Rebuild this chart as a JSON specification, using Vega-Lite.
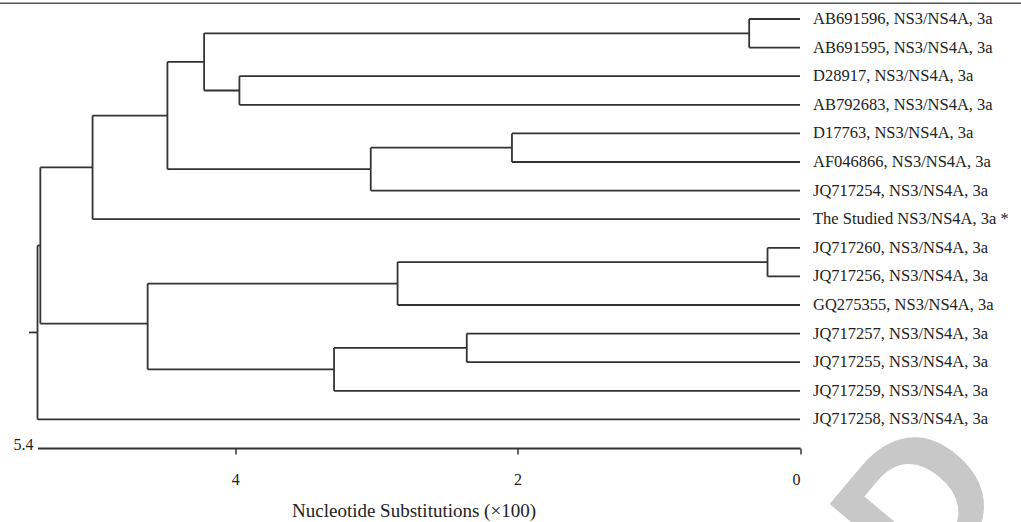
{
  "$schema": "https://vega.github.io/schema/vega-lite/v6.json",
  "width": 762.5,
  "height": 429,
  "autosize": "none",
  "padding": {"left": 37.5, "top": 19, "right": 221, "bottom": 74},
  "background": "white",
  "config": {"view": {"stroke": null}},
  "datasets": {
    "segs": [
      {"x": 0.36, "x2": 0, "y": 0, "y2": 0},
      {"x": 0.36, "x2": 0, "y": 1, "y2": 1},
      {"x": 3.97, "x2": 0, "y": 2, "y2": 2},
      {"x": 3.97, "x2": 0, "y": 3, "y2": 3},
      {"x": 2.04, "x2": 0, "y": 4, "y2": 4},
      {"x": 2.04, "x2": 0, "y": 5, "y2": 5},
      {"x": 3.04, "x2": 0, "y": 6, "y2": 6},
      {"x": 5.01, "x2": 0, "y": 7, "y2": 7},
      {"x": 0.23, "x2": 0, "y": 8, "y2": 8},
      {"x": 0.23, "x2": 0, "y": 9, "y2": 9},
      {"x": 2.85, "x2": 0, "y": 10, "y2": 10},
      {"x": 2.36, "x2": 0, "y": 11, "y2": 11},
      {"x": 2.36, "x2": 0, "y": 12, "y2": 12},
      {"x": 3.30, "x2": 0, "y": 13, "y2": 13},
      {"x": 5.40, "x2": 0, "y": 14, "y2": 14},
      {"x": 4.22, "x2": 0.36, "y": 0.5, "y2": 0.5},
      {"x": 4.22, "x2": 3.97, "y": 2.5, "y2": 2.5},
      {"x": 4.48, "x2": 4.22, "y": 1.5, "y2": 1.5},
      {"x": 3.04, "x2": 2.04, "y": 4.5, "y2": 4.5},
      {"x": 4.48, "x2": 3.04, "y": 5.25, "y2": 5.25},
      {"x": 5.01, "x2": 4.48, "y": 3.375, "y2": 3.375},
      {"x": 5.38, "x2": 5.01, "y": 5.19, "y2": 5.19},
      {"x": 2.85, "x2": 0.23, "y": 8.5, "y2": 8.5},
      {"x": 4.62, "x2": 2.85, "y": 9.25, "y2": 9.25},
      {"x": 3.30, "x2": 2.36, "y": 11.5, "y2": 11.5},
      {"x": 4.62, "x2": 3.30, "y": 12.25, "y2": 12.25},
      {"x": 5.38, "x2": 4.62, "y": 10.65, "y2": 10.65},
      {"x": 5.40, "x2": 5.38, "y": 7.92, "y2": 7.92},
      {"x": 5.46, "x2": 5.40, "y": 10.96, "y2": 10.96},
      {"x": 0.36, "x2": 0.36, "y": 0, "y2": 1},
      {"x": 3.97, "x2": 3.97, "y": 2, "y2": 3},
      {"x": 4.22, "x2": 4.22, "y": 0.5, "y2": 2.5},
      {"x": 2.04, "x2": 2.04, "y": 4, "y2": 5},
      {"x": 3.04, "x2": 3.04, "y": 4.5, "y2": 6},
      {"x": 4.48, "x2": 4.48, "y": 1.5, "y2": 5.25},
      {"x": 5.01, "x2": 5.01, "y": 3.375, "y2": 7},
      {"x": 0.23, "x2": 0.23, "y": 8, "y2": 9},
      {"x": 2.85, "x2": 2.85, "y": 8.5, "y2": 10},
      {"x": 2.36, "x2": 2.36, "y": 11, "y2": 12},
      {"x": 3.30, "x2": 3.30, "y": 11.5, "y2": 13},
      {"x": 4.62, "x2": 4.62, "y": 9.25, "y2": 12.25},
      {"x": 5.38, "x2": 5.38, "y": 5.19, "y2": 10.65},
      {"x": 5.40, "x2": 5.40, "y": 7.92, "y2": 14}
    ],
    "leaves": [
      {"name": "AB691596, NS3/NS4A, 3a", "i": 0, "x": 0},
      {"name": "AB691595, NS3/NS4A, 3a", "i": 1, "x": 0},
      {"name": "D28917, NS3/NS4A, 3a", "i": 2, "x": 0},
      {"name": "AB792683, NS3/NS4A, 3a", "i": 3, "x": 0},
      {"name": "D17763, NS3/NS4A, 3a", "i": 4, "x": 0},
      {"name": "AF046866, NS3/NS4A, 3a", "i": 5, "x": 0},
      {"name": "JQ717254, NS3/NS4A, 3a", "i": 6, "x": 0},
      {"name": "The Studied NS3/NS4A, 3a *", "i": 7, "x": 0},
      {"name": "JQ717260, NS3/NS4A, 3a", "i": 8, "x": 0},
      {"name": "JQ717256, NS3/NS4A, 3a", "i": 9, "x": 0},
      {"name": "GQ275355, NS3/NS4A, 3a", "i": 10, "x": 0},
      {"name": "JQ717257, NS3/NS4A, 3a", "i": 11, "x": 0},
      {"name": "JQ717255, NS3/NS4A, 3a", "i": 12, "x": 0},
      {"name": "JQ717259, NS3/NS4A, 3a", "i": 13, "x": 0},
      {"name": "JQ717258, NS3/NS4A, 3a", "i": 14, "x": 0}
    ],
    "topline": [{"x": 5.7, "x2": -1.6, "y": -0.55}],
    "wm": [{"t": "RETRACTED", "x": -1.52, "y": 16.55}],
    "scalelabel": [{"t": "5.4", "x": 5.4, "y": 15}]
  },
  "layer": [
    {
      "data": {"name": "wm"},
      "mark": {"type": "text", "font": "Liberation Sans", "fontWeight": "bold", "fontSize": 195, "angle": -50, "align": "right", "baseline": "alphabetic", "color": "#c8c8c8", "clip": false},
      "encoding": {
        "x": {
          "field": "x", "type": "quantitative",
          "scale": {"domain": [0, 5.4], "reverse": true, "nice": false, "zero": false},
          "axis": {
            "values": [4, 2, 0],
            "format": "d",
            "grid": false,
            "domainColor": "#333",
            "domainWidth": 1.8,
            "tickColor": "#333",
            "tickSize": 6,
            "tickWidth": 1.5,
            "labelPadding": 17,
            "labelFont": "Liberation Serif",
            "labelFontSize": 16,
            "labelColor": "#222",
            "title": "Nucleotide Substitutions (×100)",
            "titleFont": "Liberation Serif",
            "titleFontSize": 19,
            "titleFontWeight": "normal",
            "titleColor": "#222",
            "titleX": 376,
            "titleY": 62,
            "titleBaseline": "middle"
          }
        },
        "y": {
          "field": "y", "type": "quantitative",
          "scale": {"domain": [0, 15], "reverse": true, "nice": false, "zero": false},
          "axis": null
        },
        "text": {"field": "t"}
      }
    },
    {
      "data": {"name": "segs"},
      "mark": {"type": "rule", "color": "#333", "strokeWidth": 1.8, "clip": false},
      "encoding": {
        "x": {"field": "x", "type": "quantitative"},
        "x2": {"field": "x2"},
        "y": {"field": "y", "type": "quantitative"},
        "y2": {"field": "y2"}
      }
    },
    {
      "data": {"name": "topline"},
      "mark": {"type": "rule", "color": "#555", "strokeWidth": 1.5, "clip": false},
      "encoding": {
        "x": {"field": "x", "type": "quantitative"},
        "x2": {"field": "x2"},
        "y": {"field": "y", "type": "quantitative"}
      }
    },
    {
      "data": {"name": "leaves"},
      "mark": {"type": "text", "font": "Liberation Serif", "fontSize": 16.5, "align": "left", "baseline": "middle", "dx": 13, "color": "#222", "clip": false},
      "encoding": {
        "x": {"field": "x", "type": "quantitative"},
        "y": {"field": "i", "type": "quantitative"},
        "text": {"field": "name"}
      }
    },
    {
      "data": {"name": "scalelabel"},
      "mark": {"type": "text", "font": "Liberation Serif", "fontSize": 16, "align": "right", "baseline": "middle", "dx": -4, "dy": -3, "color": "#222", "clip": false},
      "encoding": {
        "x": {"field": "x", "type": "quantitative"},
        "y": {"field": "y", "type": "quantitative"},
        "text": {"field": "t"}
      }
    }
  ]
}
